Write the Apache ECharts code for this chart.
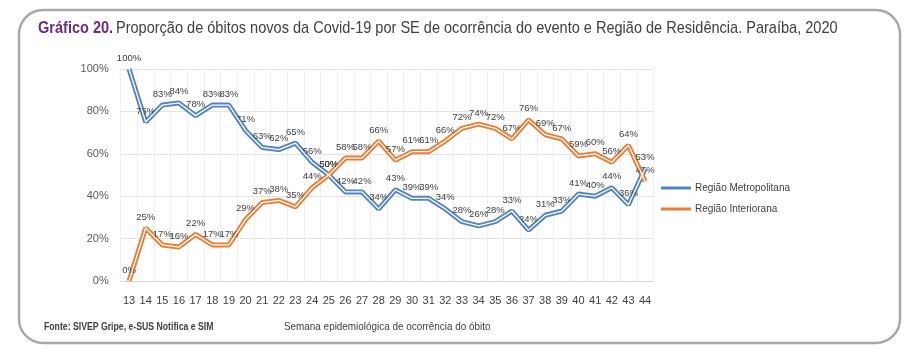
<!DOCTYPE html>
<html>
<head>
<meta charset="utf-8">
<script src="https://cdn.jsdelivr.net/npm/echarts@6/dist/echarts.min.js"></script>
<style>
html,body{margin:0;padding:0;background:#fff;}
#c{width:917px;height:358px;}
</style>
</head>
<body>
<div id="c"></div>
<script>
const weeks = ['13','14','15','16','17','18','19','20','21','22','23','24','25','26','27','28','29','30','31','32','33','34','35','36','37','38','39','40','41','42','43','44'];
const metropolitana = [100,75,83,84,78,83,83,71,63,62,65,56,50,42,42,34,43,39,39,34,28,26,28,33,24,31,33,41,40,44,36,53];
const interiorana = [0,25,17,16,22,17,17,29,37,38,35,44,50,58,58,66,57,61,61,66,72,74,72,67,76,69,67,59,60,56,64,47];
const yTicks = [0,20,40,60,80,100];

const BLUE = '#5283c4';
const ORANGE = '#ea7d34';
const SANS = '"Liberation Sans", Arial, sans-serif';

const chart = echarts.init(document.getElementById('c'), null, {renderer:'canvas'});

function lineSeries(name, data, color){
  return {
    name: name, type: 'line', data: data, symbol: 'circle', symbolSize: 0.1, showSymbol: true, z: 3,
    lineStyle: {color: color, width: 5}, itemStyle: {color: color},
    label: {show: true, position: 'top', distance: 6, formatter: p => p.value + '%',
      color: '#404040', fontSize: 9.5, fontFamily: SANS},
    labelLayout: {hideOverlap: false}
  };
}
function innerSeries(data){
  return {
    name: '_inner', type: 'line', data: data, symbol: 'none', silent: true, z: 4,
    lineStyle: {color: '#ffffff', width: 1.3}, label: {show: false}, tooltip: {show:false}
  };
}

chart.setOption({
  animation: false,
  backgroundColor: '#ffffff',
  legend: {
    data: ['Região Metropolitana','Região Interiorana'],
    orient: 'vertical', left: 656, top: 178,
    itemWidth: 30, itemHeight: 3, itemGap: 11, icon: 'rect',
    textStyle: {color: '#404040', fontSize: 10, fontFamily: SANS, padding: [0,0,0,-1]}
  },
  grid: {left: 120.7, right: 263.6, top: 69, bottom: 77, containLabel: false},
  xAxis: {
    type: 'category', data: weeks, boundaryGap: true,
    axisLine: {show: true, lineStyle: {color: '#d9d9d9'}},
    axisTick: {show: false},
    axisLabel: {color: '#404040', fontSize: 11, fontFamily: SANS, margin: 14, interval: 0},
    splitLine: {show: true, interval: 0, lineStyle: {color: '#efefef'}}
  },
  yAxis: {
    type: 'value', min: 0, max: 100, interval: 20,
    axisLine: {show: false}, axisTick: {show: false},
    axisLabel: {color: '#595959', fontSize: 11, fontFamily: SANS, margin: 12,
      formatter: v => yTicks.includes(v) ? v + '%' : ''},
    splitLine: {lineStyle: {color: '#e3e3e3'}}
  },
  series: [
    lineSeries('Região Metropolitana', metropolitana, BLUE),
    lineSeries('Região Interiorana', interiorana, ORANGE),
    innerSeries(metropolitana),
    innerSeries(interiorana)
  ],
  graphic: [
    {type: 'rect', shape: {x: 19, y: 10, width: 881, height: 333, r: 24},
      style: {fill: 'none', stroke: '#a8a8a8', lineWidth: 2.5}, z: 0, silent: true},
    {type: 'text', x: 38, y: 20, scaleX: 0.855,
      style: {
        text: '{a|Gráfico 20.} {b|Proporção de óbitos novos da Covid-19 por SE de ocorrência do evento e Região de Residência. Paraíba, 2020}',
        rich: {
          a: {fill: '#6e2a80', fontWeight: 'bold', fontSize: 17, fontFamily: SANS},
          b: {fill: '#404040', fontWeight: 'normal', fontSize: 17, fontFamily: SANS}
        }
      }},
    {type: 'text', x: 44, y: 321, scaleX: 0.79,
      style: {text: 'Fonte: SIVEP Gripe, e-SUS Notifica e SIM', fill: '#404040', fontWeight: 'bold', fontSize: 11, fontFamily: SANS}},
    {type: 'text', x: 284, y: 321, scaleX: 0.9,
      style: {text: 'Semana epidemiológica de ocorrência do óbito', fill: '#404040', fontSize: 11, fontFamily: SANS}}
  ]
});
</script>
</body>
</html>
